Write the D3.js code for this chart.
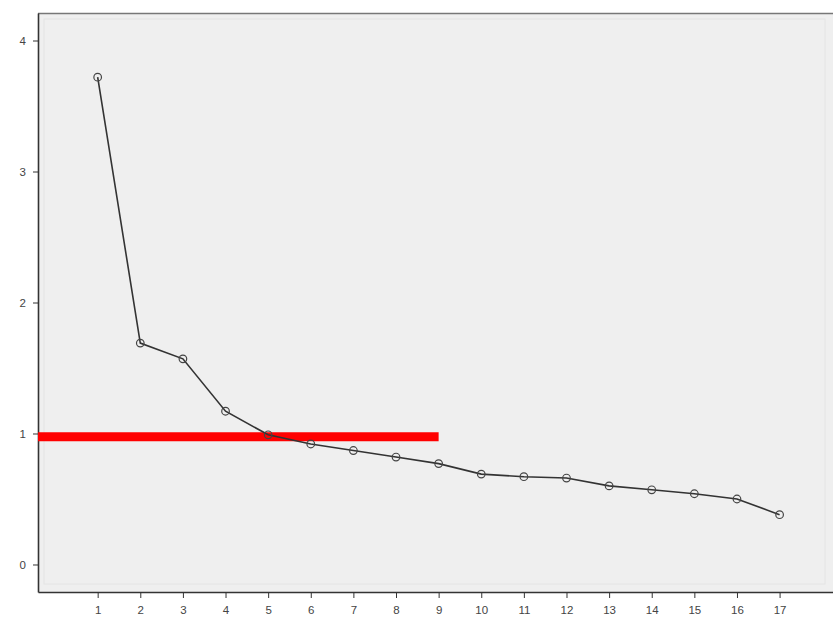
<!DOCTYPE html>
<html>
<head>
<meta charset="utf-8">
<script src="https://cdn.jsdelivr.net/npm/d3@7"></script>
<style>
  body { margin: 0; background: #fff; }
  svg { display: block; }
</style>
</head>
<body>
<svg id="chart"></svg>
<script>
// scree plot values, one per component
var components = [1, 2, 3, 4, 5, 6, 7, 8, 9, 10, 11, 12, 13, 14, 15, 16, 17];
var eigenvalues = [3.72, 1.69, 1.57, 1.17, 0.99, 0.92, 0.87, 0.82, 0.77, 0.69, 0.67, 0.66, 0.60, 0.57, 0.54, 0.50, 0.38];
var yTicks = [0, 1, 2, 3, 4];
var cutoff = { value: 0.975, until: 9 };

var width = 833;
var height = 626;
var margin = { top: 13, right: -2, bottom: 34, left: 38 };

var svg = d3.select('#chart')
  .attr('width', width)
  .attr('height', height);

var xScale = d3.scaleLinear()
  .domain([-0.4, 18.3])
  .range([margin.left, width - margin.right]);

var yScale = d3.scaleLinear()
  .domain([-0.21, 4.21])
  .range([height - margin.bottom, margin.top]);

// plot area
svg.append('rect')
  .attr('x', margin.left)
  .attr('y', margin.top)
  .attr('width', width - margin.right - margin.left)
  .attr('height', height - margin.bottom - margin.top)
  .attr('fill', '#efefef');

// faint inner frame
svg.append('rect')
  .attr('x', margin.left + 6)
  .attr('y', margin.top + 6)
  .attr('width', width - margin.right - margin.left - 16)
  .attr('height', height - margin.bottom - margin.top - 14)
  .attr('fill', 'none')
  .attr('stroke', '#e4e4e4')
  .attr('stroke-width', 1);

// top border
svg.append('line')
  .attr('x1', margin.left).attr('x2', width)
  .attr('y1', margin.top + 0.5).attr('y2', margin.top + 0.5)
  .attr('stroke', '#777').attr('stroke-width', 1.5);

var xAxis = d3.axisBottom(xScale)
  .tickValues(components)
  .tickFormat(d3.format('d'))
  .tickSize(6)
  .tickSizeOuter(0);

var yAxis = d3.axisLeft(yScale)
  .tickValues(yTicks)
  .tickFormat(d3.format('d'))
  .tickSize(5)
  .tickSizeOuter(0);

var gx = svg.append('g')
  .attr('transform', 'translate(0,' + (height - margin.bottom) + ')')
  .call(xAxis);

var gy = svg.append('g')
  .attr('transform', 'translate(' + margin.left + ',0)')
  .call(yAxis);

[gx, gy].forEach(function (g) {
  g.select('.domain').attr('stroke', '#333').attr('stroke-width', 1.6);
  g.selectAll('.tick line').attr('stroke', '#333');
  g.selectAll('.tick text')
    .attr('fill', '#444')
    .style('font-family', 'Liberation Sans, Arial, sans-serif')
    .style('font-size', '11.5px');
});
gx.selectAll('.tick text').attr('dy', '1.1em');
gy.selectAll('.tick text').attr('x', -12);

// red cut-off line at eigenvalue 1
svg.append('line')
  .attr('x1', margin.left)
  .attr('x2', xScale(cutoff.until))
  .attr('y1', yScale(cutoff.value))
  .attr('y2', yScale(cutoff.value))
  .attr('stroke', '#f00')
  .attr('stroke-width', 9);

var points = components.map(function (c, i) { return { x: c, y: eigenvalues[i] }; });

var line = d3.line()
  .x(function (d) { return xScale(d.x); })
  .y(function (d) { return yScale(d.y); });

svg.append('path')
  .datum(points)
  .attr('d', line)
  .attr('fill', 'none')
  .attr('stroke', '#333')
  .attr('stroke-width', 1.6);

svg.selectAll('circle.pt')
  .data(points)
  .enter()
  .append('circle')
  .attr('class', 'pt')
  .attr('cx', function (d) { return xScale(d.x); })
  .attr('cy', function (d) { return yScale(d.y); })
  .attr('r', 3.8)
  .attr('fill', 'none')
  .attr('stroke', '#444')
  .attr('stroke-width', 1.2);
</script>
</body>
</html>
